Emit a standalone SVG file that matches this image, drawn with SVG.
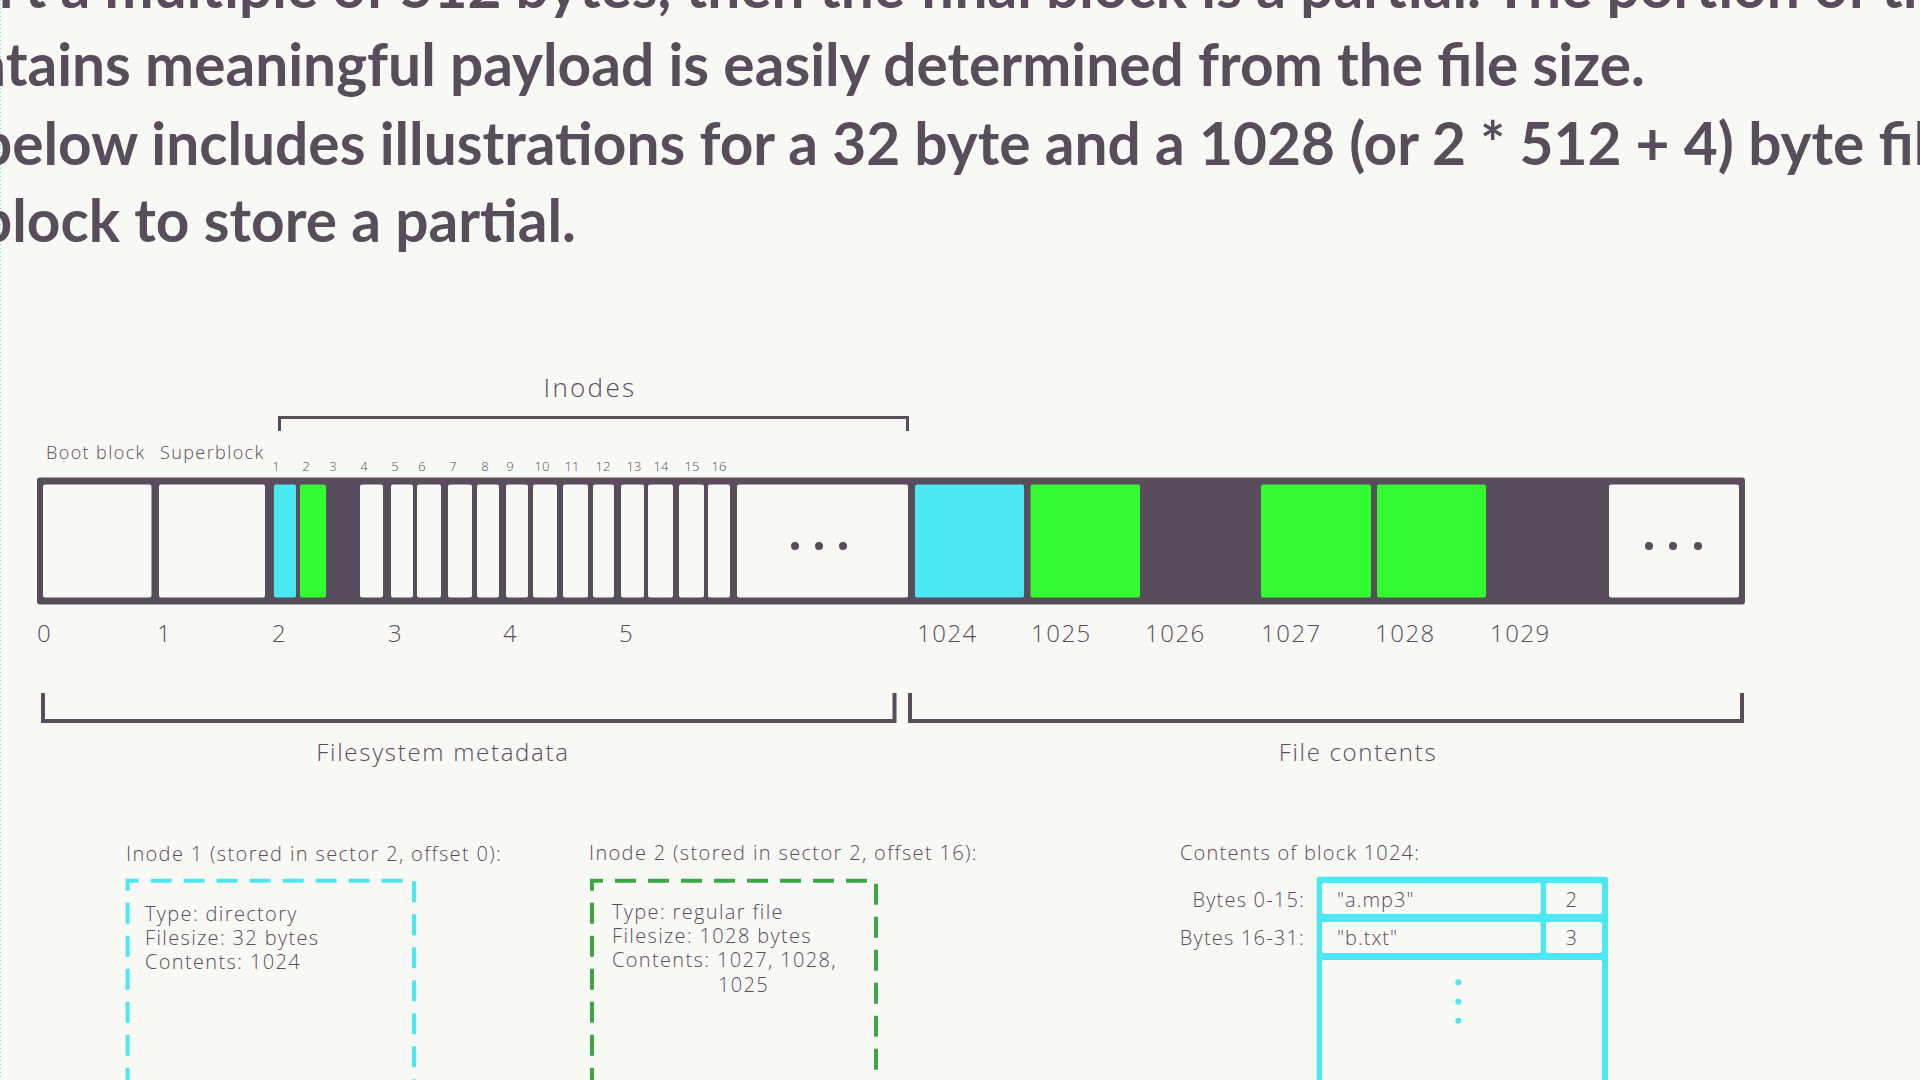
<svg xmlns="http://www.w3.org/2000/svg" width="1920" height="1080" viewBox="0 0 1920 1080">
<style>
.para{font-family:Lato,"Liberation Sans",sans-serif;font-weight:700;font-size:58.6px;fill:#594c5c}
.t{font-family:"Open Sans","DejaVu Sans",sans-serif;font-weight:300;fill:#594c5c}
.s13{font-size:13px}
.s18{font-size:18px;letter-spacing:1.4px}
.s20{font-size:20px;letter-spacing:1.35px}
.s24{font-size:24px;letter-spacing:1.5px}
.s26{font-size:26px;letter-spacing:2.3px}
.cell{fill:#f8f8f4}
.cy{fill:#4be8f2}
.gr{fill:#32fb32}
.dot{fill:#594c5c}
.br{fill:none;stroke:#594c5c;stroke-width:4;stroke-linejoin:miter}
.dash{fill:none;stroke-width:4;stroke-dasharray:21 12}
</style>
<rect x="0" y="0" width="1920" height="1080" fill="#f8f8f4"/>
<line x1="0.5" y1="0" x2="0.5" y2="1080" stroke="#4be8f2" stroke-width="1" stroke-dasharray="1 3"/>

<g id="paragraph">
<text class="para" x="-20" y="8">n't a multiple of 512 bytes, then the final block is a partial. The portion of th</text>
<text class="para" x="-27" y="86">ntains meaningful payload is easily determined from the file size.</text>
<text class="para" x="-21" y="165">below includes illustrations for a 32 byte and a 1028 (or 2 * 512 + 4) byte fil</text>
<text class="para" x="-21" y="242">block to store a partial.</text>
</g>

<g id="disk">
<rect x="37" y="477.5" width="1708" height="127" rx="3" fill="#594c5c"/>
<g id="block-0"><rect class="cell" x="43" y="484.5" width="108.5" height="113" rx="2"/></g>
<g id="block-1"><rect class="cell" x="159" y="484.5" width="106" height="113" rx="2"/></g>
<g id="inode-cells">
<rect class="cy" x="274" y="484.5" width="22" height="113" rx="2"/>
<rect class="gr" x="300" y="484.5" width="26" height="113" rx="2"/>
<rect class="cell" x="360" y="484.5" width="23" height="113" rx="2"/>
<rect class="cell" x="391" y="484.5" width="22" height="113" rx="2"/>
<rect class="cell" x="417" y="484.5" width="24" height="113" rx="2"/>
<rect class="cell" x="448" y="484.5" width="24" height="113" rx="2"/>
<rect class="cell" x="477" y="484.5" width="22" height="113" rx="2"/>
<rect class="cell" x="506" y="484.5" width="22" height="113" rx="2"/>
<rect class="cell" x="533" y="484.5" width="24" height="113" rx="2"/>
<rect class="cell" x="563" y="484.5" width="25" height="113" rx="2"/>
<rect class="cell" x="593" y="484.5" width="21" height="113" rx="2"/>
<rect class="cell" x="621" y="484.5" width="23" height="113" rx="2"/>
<rect class="cell" x="648" y="484.5" width="25" height="113" rx="2"/>
<rect class="cell" x="679" y="484.5" width="25" height="113" rx="2"/>
<rect class="cell" x="708" y="484.5" width="22" height="113" rx="2"/>
</g>
<g id="block-more-1">
<rect class="cell" x="737" y="484.5" width="171" height="113" rx="2"/>
<circle class="dot" cx="795" cy="546" r="4"/><circle class="dot" cx="819" cy="546" r="4"/><circle class="dot" cx="843" cy="546" r="4"/>
</g>
<g id="block-1024"><rect class="cy" x="915" y="484.5" width="109" height="113" rx="2"/></g>
<g id="block-1025"><rect class="gr" x="1030.5" y="484.5" width="109.5" height="113" rx="2"/></g>
<g id="block-1027"><rect class="gr" x="1261" y="484.5" width="110" height="113" rx="2"/></g>
<g id="block-1028"><rect class="gr" x="1377" y="484.5" width="109" height="113" rx="2"/></g>
<g id="block-more-2">
<rect class="cell" x="1609" y="484.5" width="130" height="113" rx="2"/>
<circle class="dot" cx="1649" cy="546" r="4"/><circle class="dot" cx="1673" cy="546" r="4"/><circle class="dot" cx="1698" cy="546" r="4"/>
</g>
</g>

<g id="labels">
<text class="t s26" x="590" y="397" text-anchor="middle">Inodes</text>
<text class="t s18" x="46" y="459">Boot block</text>
<text class="t s18" x="160" y="459">Superblock</text>
<g class="t s13" text-anchor="middle">
<text x="276" y="471">1</text><text x="306" y="471">2</text><text x="333" y="471">3</text><text x="364" y="471">4</text>
<text x="395" y="471">5</text><text x="422" y="471">6</text><text x="453" y="471">7</text><text x="485" y="471">8</text>
<text x="510" y="471">9</text><text x="542" y="471">10</text><text x="572" y="471">11</text><text x="603" y="471">12</text>
<text x="634" y="471">13</text><text x="661" y="471">14</text><text x="692" y="471">15</text><text x="719" y="471">16</text>
</g>
<g class="t s24">
<text x="37" y="642">0</text><text x="157" y="642">1</text><text x="272" y="642">2</text><text x="388" y="642">3</text>
<text x="503" y="642">4</text><text x="619" y="642">5</text>
<text x="917" y="642">1024</text><text x="1031" y="642">1025</text><text x="1145" y="642">1026</text>
<text x="1261" y="642">1027</text><text x="1375" y="642">1028</text><text x="1490" y="642">1029</text>
</g>
<text class="t s24" x="443" y="761" text-anchor="middle" style="letter-spacing:1.7px">Filesystem metadata</text>
<text class="t s24" x="1358" y="761" text-anchor="middle" style="letter-spacing:1.7px">File contents</text>
</g>

<g id="connectors">
<path class="br" style="stroke-width:3" d="M279.5 431 V417.5 H907.5 V431"/>
<path class="br" d="M43 693 V721 H894.5 V693"/>
<path class="br" d="M910 693 V721 H1742 V693"/>
</g>

<g id="inode1">
<text class="t s20" x="126" y="861">Inode 1 (stored in sector 2, offset 0):</text>
<path class="dash" stroke="#4be8f2" stroke-dashoffset="21.7" d="M127.6 1100 V880.7 H414 V1100"/>
<text class="t s20" x="145" y="921">Type: directory</text>
<text class="t s20" x="145" y="945">Filesize: 32 bytes</text>
<text class="t s20" x="145" y="969">Contents: 1024</text>
</g>

<g id="inode2">
<text class="t s20" x="589" y="860">Inode 2 (stored in sector 2, offset 16):</text>
<path class="dash" stroke="#3aa845" stroke-dashoffset="21.7" d="M592 1100 V880.7 H876 V1100"/>
<text class="t s20" x="612" y="919">Type: regular file</text>
<text class="t s20" x="612" y="943">Filesize: 1028 bytes</text>
<text class="t s20" x="612" y="967">Contents: 1027, 1028,</text>
<text class="t s20" x="718" y="992">1025</text>
</g>

<g id="block1024-contents">
<text class="t s20" x="1180" y="860" style="letter-spacing:1.2px">Contents of block 1024:</text>
<rect class="cy" x="1316.7" y="876.7" width="291.3" height="230" rx="3"/>
<rect class="cell" x="1322" y="883" width="218.7" height="31" rx="2"/>
<rect class="cell" x="1546" y="883" width="56" height="31" rx="2"/>
<rect class="cell" x="1322" y="922" width="218.7" height="31" rx="2"/>
<rect class="cell" x="1546" y="922" width="56" height="31" rx="2"/>
<rect class="cell" x="1322" y="960" width="280" height="140" rx="2"/>
<text class="t s20" x="1305" y="907" text-anchor="end" style="letter-spacing:1.2px">Bytes 0-15:</text>
<text class="t s20" x="1305" y="945" text-anchor="end" style="letter-spacing:1.2px">Bytes 16-31:</text>
<text class="t s20" x="1337" y="907" style="letter-spacing:1px">"a.mp3"</text>
<text class="t s20" x="1337" y="945" style="letter-spacing:1px">"b.txt"</text>
<text class="t s20" x="1572" y="907" text-anchor="middle">2</text>
<text class="t s20" x="1572" y="945" text-anchor="middle">3</text>
<circle class="cy" cx="1458.3" cy="982.3" r="3"/>
<circle class="cy" cx="1458.3" cy="1001.7" r="3"/>
<circle class="cy" cx="1458.3" cy="1020.7" r="3"/>
</g>
</svg>
